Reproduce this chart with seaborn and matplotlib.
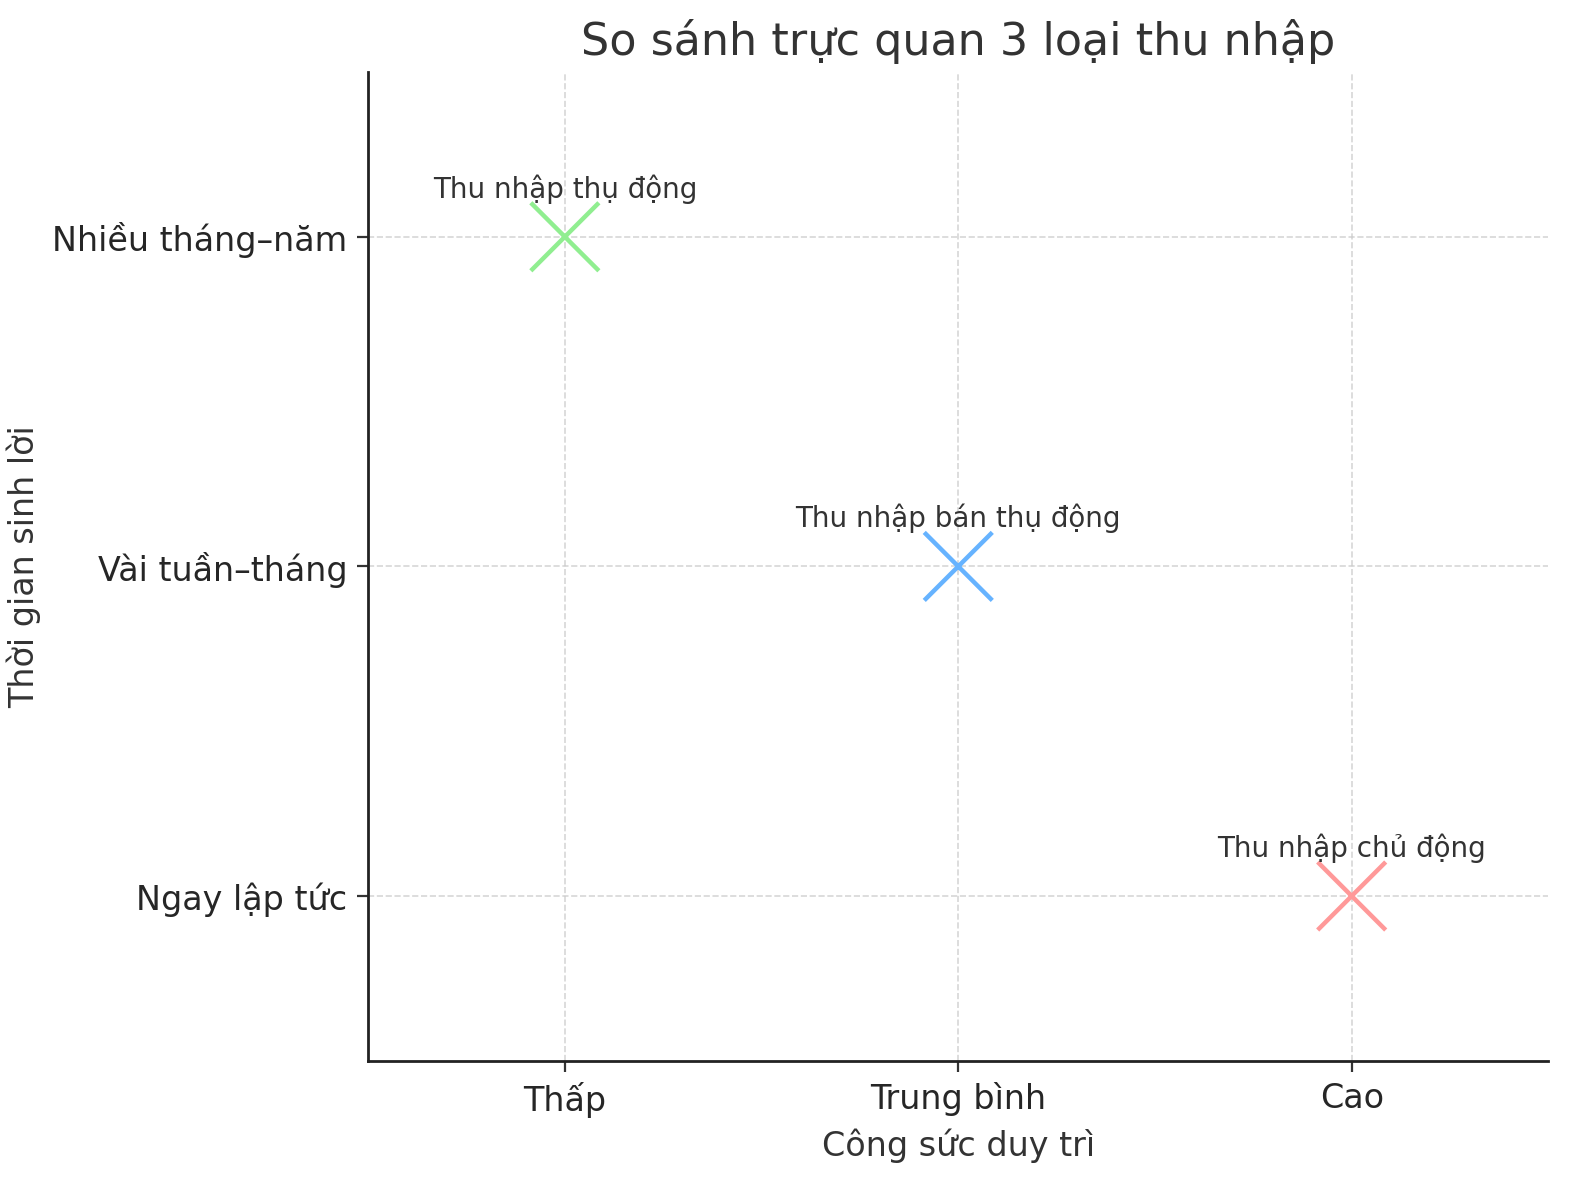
import matplotlib
matplotlib.use("Agg")
import matplotlib.pyplot as plt
import seaborn as sns
import pandas as pd

effort_labels = ["Thấp", "Trung bình", "Cao"]
time_labels = ["Ngay lập tức", "Vài tuần–tháng", "Nhiều tháng–năm"]
names = ["Thu nhập thụ động", "Thu nhập bán thụ động", "Thu nhập chủ động"]
effort = [0, 1, 2]
time_to_profit = [2, 1, 0]
colors = ["#90EE90", "#66B3FF", "#FF9999"]

sns.set_style("white")
plt.rcParams['font.family'] = ['DejaVu Sans']

df = pd.DataFrame({"effort": effort, "time": time_to_profit, "name": names})
fig, ax = plt.subplots(figsize=(7.9, 5.9), dpi=200)
sns.scatterplot(data=df, x="effort", y="time", hue="name", palette=colors,
                marker="x", s=600, linewidth=1.6, legend=False, ax=ax, zorder=3)
for xi, yi, n in zip(effort, time_to_profit, names):
    ax.text(xi, yi + 0.1, n, ha="center", va="bottom", fontsize=10, color="#333333")

ax.set_xlim(-0.5, 2.5)
ax.set_ylim(-0.5, 2.5)
ax.set_xticks(effort)
ax.set_xticklabels(effort_labels, fontsize=12)
ax.set_yticks([0, 1, 2])
ax.set_yticklabels(time_labels, fontsize=12)
ax.tick_params(axis="both", length=4, width=0.8, color="#333333", bottom=True, left=True)
ax.grid(True, linestyle="--", color="#cccccc", linewidth=0.6, alpha=0.8)
ax.set_axisbelow(True)
ax.set_xlabel("Công sức duy trì", fontsize=12, color="#333333")
ax.set_ylabel("Thời gian sinh lời", fontsize=12, color="#333333")
ax.set_title("So sánh trực quan 3 loại thu nhập", fontsize=16, color="#333333")
sns.despine(ax=ax)
for s in ["left", "bottom"]:
    ax.spines[s].set_color("#222222")
    ax.spines[s].set_linewidth(1.0)
fig.subplots_adjust(left=0.233, right=0.98, bottom=0.101, top=0.939)
fig.savefig("out.png", dpi=200)
